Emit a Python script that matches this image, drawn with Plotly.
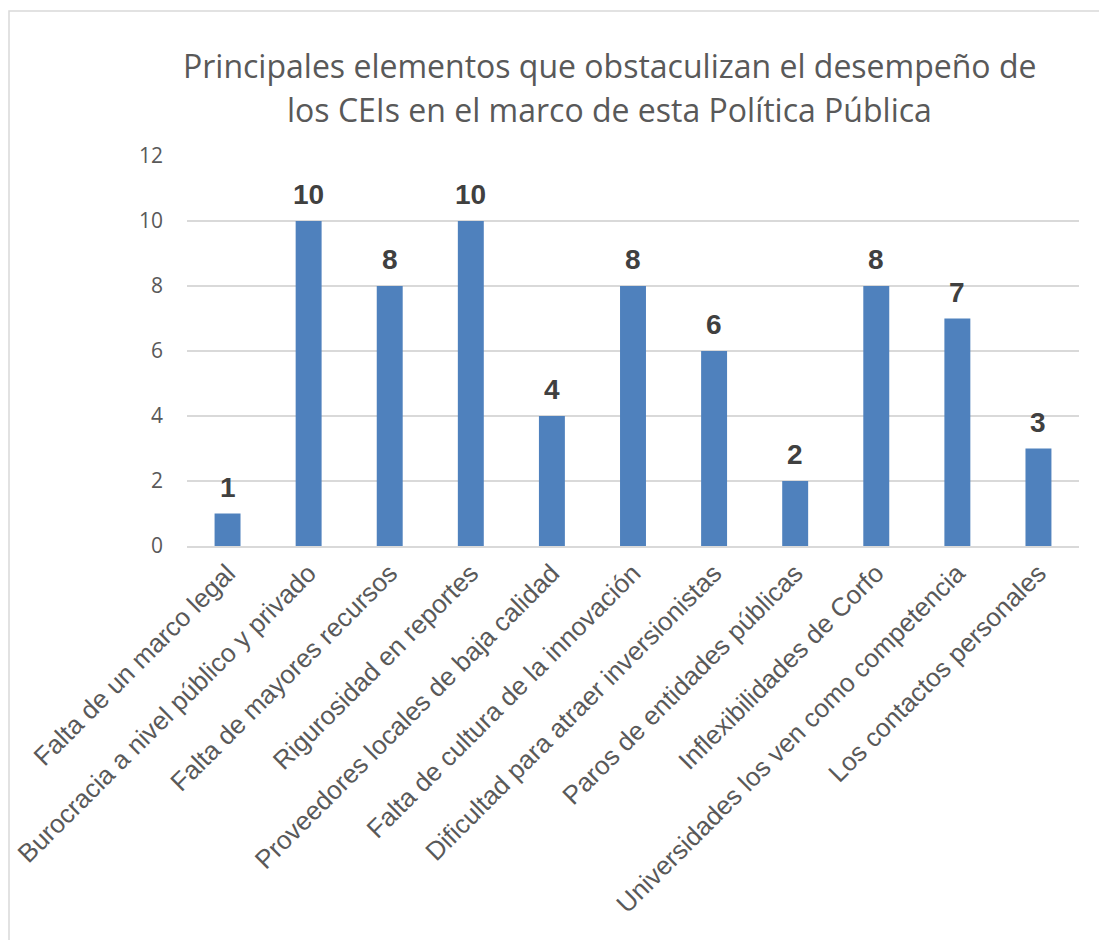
import plotly.graph_objects as go

categories = [
    "Falta de un marco legal",
    "Burocracia a nivel público y privado",
    "Falta de mayores recursos",
    "Rigurosidad en reportes",
    "Proveedores locales de baja calidad",
    "Falta de cultura de la innovación",
    "Dificultad para atraer inversionistas",
    "Paros de entidades públicas",
    "Inflexibilidades de Corfo",
    "Universidades los ven como competencia",
    "Los contactos personales",
]
values = [1, 10, 8, 10, 4, 8, 6, 2, 8, 7, 3]
y_ticks = [0, 2, 4, 6, 8, 10, 12]
title_lines = [
    "Principales elementos que obstaculizan el desempeño de",
    "los CEIs en el marco de esta Política Pública",
]

W, H = 1099, 940
L, R, T, B = 187, 20, 156, 394
pw, ph = W - L - R, H - T - B


def py(ypx):
    return (H - B - ypx) / ph


def px(xpx):
    return (xpx - L) / pw


fig = go.Figure(go.Bar(
    x=categories, y=values,
    marker=dict(color="#4F81BD", line=dict(width=0)),
    width=0.32,
))

annotations = []
for c, v in zip(categories, values):
    annotations.append(dict(
        x=c, y=v, xref="x", yref="y", text=str(v), showarrow=False,
        yanchor="bottom", xanchor="center", yshift=9,
        font=dict(family="Liberation Sans, Arial", size=28, color="#404040", weight="bold"),
    ))
for i, line in enumerate(title_lines):
    annotations.append(dict(
        x=px(609), y=py(66 + 43 * i), xref="paper", yref="paper", text=line,
        showarrow=False, xanchor="center", yanchor="middle",
        font=dict(family="Open Sans, Noto Sans", size=32, color="#595959"),
    ))

fig.update_layout(
    width=W, height=H,
    margin=dict(l=L, r=R, t=T, b=B, autoexpand=False),
    paper_bgcolor="white", plot_bgcolor="white",
    showlegend=False,
    annotations=annotations,
    xaxis=dict(
        tickangle=-45, showgrid=False, ticks="", showline=True,
        linecolor="#D9D9D9", linewidth=1.5,
        tickfont=dict(family="Liberation Sans, Arial", size=26, color="#595959"),
    ),
    yaxis=dict(
        range=[0, 12], tickvals=y_ticks, showgrid=True, gridcolor="#D9D9D9",
        gridwidth=1.5, zeroline=False, ticks="", ticklabelstandoff=23,
        tickfont=dict(family="Open Sans, Noto Sans", size=21, color="#595959"),
    ),
    shapes=[dict(
        type="rect", xref="paper", yref="paper",
        x0=px(9), x1=px(W + 5),
        y0=py(H + 5), y1=py(11),
        line=dict(color="#D9D9D9", width=1.5), fillcolor="rgba(0,0,0,0)", layer="below",
    )],
)

fig.write_html("out.html")
